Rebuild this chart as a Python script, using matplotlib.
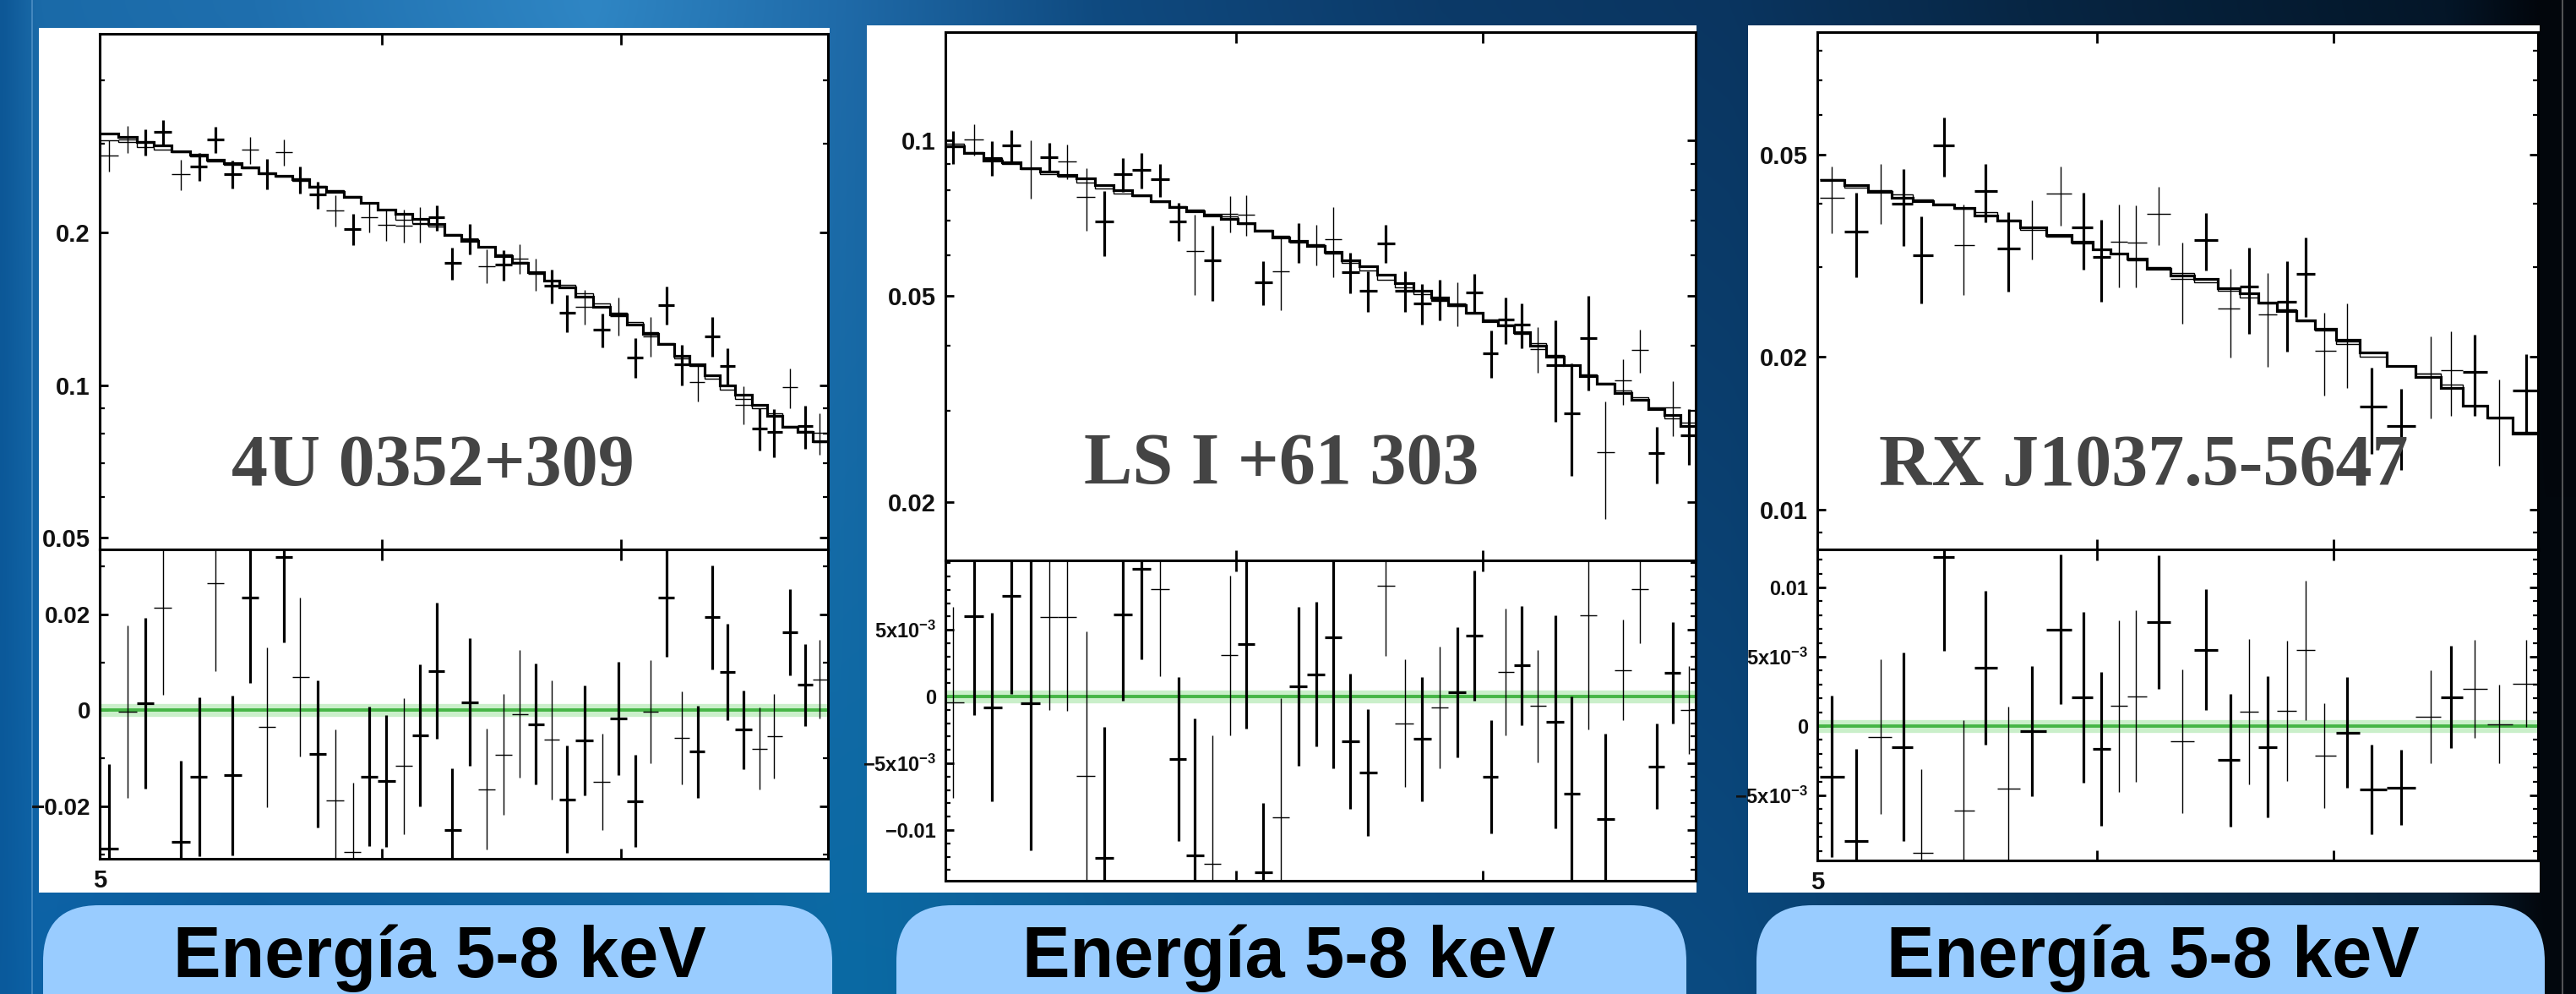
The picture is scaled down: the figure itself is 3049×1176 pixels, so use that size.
import numpy as np
import matplotlib
matplotlib.use('Agg')
import matplotlib.pyplot as plt
from matplotlib.patches import Rectangle, FancyBboxPatch
from matplotlib.ticker import FixedLocator, FixedFormatter, NullFormatter, NullLocator, MultipleLocator, LogLocator
from matplotlib.colors import to_rgb
from matplotlib import font_manager

# ---------------- data ----------------
# Panel 1 : 4U 0352+309
E1 = [5.030, 5.091, 5.150, 5.208, 5.268, 5.332, 5.388, 5.448, 5.511, 5.569, 5.631, 5.690, 5.756, 5.820, 5.888,
      5.949, 6.016, 6.085, 6.149, 6.214, 6.278, 6.349, 6.418, 6.489, 6.557, 6.626, 6.695, 6.759, 6.837, 6.916,
      6.988, 7.066, 7.135, 7.208, 7.278, 7.355, 7.424, 7.497, 7.575, 7.655, 7.727, 7.808, 7.885, 7.958]
flux1 = [0.2847, 0.3062, 0.3023, 0.3163, 0.2613, 0.2707, 0.3057, 0.2613, 0.2917, 0.2621, 0.2889, 0.2550, 0.2378,
         0.2215, 0.2033, 0.2151, 0.2076, 0.2066, 0.2083, 0.2144, 0.1743, 0.1946, 0.1720, 0.1729, 0.1777, 0.1660,
         0.1569, 0.1389, 0.1430, 0.1285, 0.1371, 0.1135, 0.1250, 0.1440, 0.1099, 0.1013, 0.1250, 0.1090, 0.0915,
         0.0821, 0.0808, 0.0989, 0.0830, 0.0804]
fluxerr1 = [0.0203, 0.0186, 0.0184, 0.0184, 0.0180, 0.0175, 0.0183, 0.0169, 0.0177, 0.0180, 0.0175, 0.0155, 0.0144,
            0.0156, 0.0145, 0.0148, 0.0148, 0.0156, 0.0169, 0.0125, 0.0127, 0.0134, 0.0132, 0.0119, 0.0118, 0.0121,
            0.0121, 0.0118, 0.0112, 0.0099, 0.0117, 0.0101, 0.0111, 0.0125, 0.0102, 0.0086, 0.0111, 0.0093, 0.0078,
            0.0080, 0.0088, 0.0088, 0.0081, 0.0075]
thick1 = [0, 0, 1, 1, 0, 1, 1, 1, 0, 1, 0, 1, 1, 0, 1, 0, 0, 0, 0, 1, 1, 1, 0, 1, 0, 0, 1, 1, 0, 1,
          0, 1, 0, 1, 1, 0, 1, 1, 0, 1, 1, 0, 1, 0]
model1_a = [0.3147, 0.3097, 0.3023, 0.2974, 0.2903, 0.2856, 0.2788, 0.2743, 0.2699, 0.2621, 0.2592, 0.2550, 0.2469,
            0.2409, 0.2352, 0.2288, 0.2222, 0.2179, 0.2134, 0.2083, 0.1984, 0.1927, 0.1875, 0.1800, 0.1743, 0.1674,
            0.1607, 0.1561, 0.1494, 0.1430, 0.1378, 0.1319, 0.1261, 0.1205, 0.1144, 0.1099, 0.1046, 0.0997, 0.0957,
            0.0912, 0.0869, 0.0827, 0.0808, 0.0775]
model1_b = [0.305, 0.303, 0.296, 0.292, 0.289, 0.283, 0.277, 0.273, 0.268, 0.262, 0.258, 0.253, 0.248, 0.243, 0.236,
            0.229, 0.222, 0.212, 0.209, 0.206, 0.199, 0.194, 0.188, 0.181, 0.175, 0.167, 0.161, 0.158, 0.152, 0.145,
            0.139, 0.133, 0.127, 0.121, 0.113, 0.109, 0.103, 0.098, 0.094, 0.090, 0.088, 0.083, 0.081, 0.077]
resid1 = [-0.02871, -0.0003, 0.0015, 0.02132, -0.02733, -0.01381, 0.02643, -0.01351, 0.02354, -0.00348, 0.03195,
          0.00691, -0.00901, -0.01874, -0.02943, -0.01381, -0.01471, -0.01159, -0.00523, 0.00823, -0.02492, 0.00168,
          -0.01640, -0.00919, -0.00078, -0.00288, -0.00613, -0.01850, -0.00631, -0.01483, -0.00162, -0.01892,
          -0.0003, 0.02354, -0.00571, -0.00859, 0.01940, 0.00799, -0.00402, -0.00799, -0.00541, 0.01622, 0.00529,
          0.00649]
residerr1 = [0.0176, 0.0180, 0.0178, 0.0180, 0.0168, 0.0165, 0.0183, 0.0166, 0.0178, 0.0166, 0.0178, 0.0165, 0.0153,
             0.0148, 0.0144, 0.0145, 0.0138, 0.0142, 0.0148, 0.0141, 0.0129, 0.0133, 0.0126, 0.0126, 0.0133, 0.0126,
             0.0124, 0.0111, 0.0114, 0.0100, 0.0118, 0.0096, 0.0108, 0.0124, 0.0097, 0.0096, 0.0108, 0.0100, 0.0082,
             0.0085, 0.0088, 0.0090, 0.0085, 0.0082]
residthick1 = [1, 0, 1, 0, 1, 1, 0, 1, 1, 0, 1, 0, 1, 0, 0, 1, 1, 0, 1, 1, 1, 1, 0, 0, 0, 1, 0, 1, 1, 0,
               1, 1, 0, 1, 0, 1, 1, 1, 1, 0, 0, 1, 1, 0]

# Panel 2 : LS I +61 303
E2 = [5.025, 5.090, 5.149, 5.210, 5.274, 5.335, 5.396, 5.462, 5.523, 5.589, 5.652, 5.719, 5.785, 5.846, 5.911,
      5.975, 6.038, 6.101, 6.170, 6.237, 6.307, 6.375, 6.444, 6.516, 6.587, 6.667, 6.740, 6.815, 6.889, 6.964,
      7.037, 7.102, 7.174, 7.247, 7.326, 7.403, 7.478, 7.560, 7.644, 7.727, 7.806, 7.885, 7.965]
flux2 = [0.0973, 0.1005, 0.0926, 0.0979, 0.0885, 0.0929, 0.0911, 0.0777, 0.0698, 0.0859, 0.0876, 0.0840, 0.0698,
         0.0610, 0.0587, 0.0722, 0.0718, 0.0532, 0.0558, 0.0636, 0.0630, 0.0644, 0.0556, 0.0512, 0.0633, 0.0512,
         0.0484, 0.0493, 0.0484, 0.0508, 0.0388, 0.0450, 0.0440, 0.0395, 0.0367, 0.0297, 0.0414, 0.0249, 0.0343,
         0.0393, 0.0248, 0.0305, 0.0269]
fluxerr2 = [0.0071, 0.0070, 0.0072, 0.0068, 0.0114, 0.0062, 0.0069, 0.0108, 0.0100, 0.0065, 0.0070, 0.0062, 0.0060,
            0.0107, 0.0098, 0.0059, 0.0064, 0.0052, 0.0089, 0.0056, 0.0057, 0.0100, 0.0050, 0.0046, 0.0054, 0.0046,
            0.0044, 0.0044, 0.0047, 0.0044, 0.0041, 0.0046, 0.0044, 0.0040, 0.0081, 0.0073, 0.0086, 0.0064, 0.0035,
            0.0038, 0.0031, 0.0037, 0.0033]
thick2 = [1, 0, 1, 1, 0, 1, 0, 0, 1, 1, 1, 1, 1, 0, 1, 0, 0, 1, 0, 1, 0, 0, 1, 1, 1, 1, 1, 1, 0, 1,
          1, 1, 1, 0, 1, 1, 1, 0, 0, 0, 1, 0, 1]
model2_a = [0.0973, 0.0945, 0.0914, 0.0907, 0.0885, 0.0870, 0.0856, 0.0843, 0.0818, 0.0802, 0.0783, 0.0764, 0.0742,
            0.0730, 0.0716, 0.0704, 0.0693, 0.0668, 0.0649, 0.0638, 0.0626, 0.0608, 0.0587, 0.0570, 0.0549, 0.0529,
            0.0512, 0.0496, 0.0480, 0.0464, 0.0447, 0.0439, 0.0425, 0.0401, 0.0382, 0.0367, 0.0350, 0.0338, 0.0325,
            0.0315, 0.0302, 0.0294, 0.0280]
model2_b = [0.0985, 0.0950, 0.0925, 0.0900, 0.0880, 0.0862, 0.0850, 0.0830, 0.0808, 0.0790, 0.0780, 0.0760, 0.0745,
            0.0735, 0.0720, 0.0712, 0.0690, 0.0672, 0.0655, 0.0640, 0.0625, 0.0605, 0.0580, 0.0560, 0.0538, 0.0520,
            0.0505, 0.0490, 0.0478, 0.0462, 0.0450, 0.0440, 0.0422, 0.0405, 0.0385, 0.0368, 0.0352, 0.0340, 0.0328,
            0.0318, 0.0305, 0.0290, 0.0285]
resid2 = [-0.00043, 0.00600, -0.00080, 0.00751, -0.00050, 0.00593, 0.00593, -0.00593, -0.01208, 0.00615, 0.00954,
          0.00803, -0.00468, -0.01191, -0.01256, 0.00309, 0.00395, -0.01316, -0.00906, 0.00076, 0.00168, 0.00442,
          -0.00334, -0.00572, 0.00831, -0.00199, -0.00319, -0.00082, 0.00032, 0.00457, -0.00600, 0.00183, 0.00233,
          -0.00071, -0.00190, -0.00727, 0.00609, -0.00917, 0.00199, 0.00803, -0.00522, 0.00177, -0.00101]
residerr2 = [0.00716, 0.00740, 0.00706, 0.00729, 0.01105, 0.00691, 0.00701, 0.01079, 0.00982, 0.00647, 0.00673,
             0.00652, 0.00615, 0.01029, 0.00965, 0.00600, 0.00632, 0.00518, 0.00896, 0.00593, 0.00544, 0.00982,
             0.00507, 0.00475, 0.00529, 0.00475, 0.00464, 0.00457, 0.00486, 0.00490, 0.00425, 0.00475, 0.00447,
             0.00421, 0.00798, 0.00727, 0.00857, 0.00637, 0.00378, 0.00404, 0.00317, 0.00378, 0.00328]
residthick2 = [0, 1, 1, 1, 1, 0, 0, 0, 1, 1, 1, 0, 1, 1, 0, 0, 1, 1, 0, 1, 1, 1, 1, 1, 0, 0, 1, 0, 1, 1,
               1, 0, 1, 0, 1, 1, 0, 1, 0, 0, 1, 1, 0]

# Panel 3 : RX J1037.5-5647
E3 = [5.048, 5.128, 5.210, 5.289, 5.352, 5.430, 5.501, 5.579, 5.664, 5.752, 5.860, 5.947, 6.018, 6.086, 6.155,
      6.246, 6.344, 6.442, 6.545, 6.626, 6.708, 6.791, 6.874, 6.959, 7.065, 7.178, 7.318, 7.458, 7.558, 7.678,
      7.801, 7.938]
flux3 = [0.04120, 0.03535, 0.04221, 0.04002, 0.03167, 0.05222, 0.03314, 0.04234, 0.03271, 0.03592, 0.04187,
         0.03592, 0.03147, 0.03368, 0.03357, 0.03819, 0.02843, 0.03395, 0.02487, 0.02753, 0.02420, 0.02569,
         0.02913, 0.02059, 0.02144, 0.01596, 0.01463, 0.01854, 0.01885, 0.01869, 0.01511, 0.01716]
fluxerr3 = [0.00615, 0.00670, 0.00568, 0.00690, 0.00620, 0.00695, 0.00668, 0.00556, 0.00585, 0.00478, 0.00557,
            0.00623, 0.00578, 0.00624, 0.00622, 0.00499, 0.00516, 0.00438, 0.00491, 0.00533, 0.00507, 0.00518,
            0.00517, 0.00382, 0.00406, 0.00309, 0.00265, 0.00344, 0.00357, 0.00339, 0.00292, 0.00311]
thick3 = [0, 1, 0, 1, 1, 1, 0, 1, 1, 0, 0, 1, 1, 0, 0, 0, 0, 1, 0, 1, 0, 1, 1, 0, 0, 1, 1, 0, 0, 1, 0, 1]
model3_a = [0.04465, 0.04359, 0.04221, 0.04120, 0.04054, 0.03989, 0.03925, 0.03801, 0.03710, 0.03592, 0.03478,
            0.03368, 0.03261, 0.03198, 0.03117, 0.02984, 0.02889, 0.02843, 0.02731, 0.02666, 0.02560, 0.02459,
            0.02362, 0.02269, 0.02161, 0.02043, 0.01915, 0.01825, 0.01739, 0.01604, 0.01516, 0.01410]
model3_b = [0.0448, 0.0430, 0.0425, 0.0418, 0.0408, 0.0400, 0.0392, 0.0385, 0.0372, 0.0355, 0.0345, 0.0335, 0.0325,
            0.0320, 0.0310, 0.0300, 0.0292, 0.0280, 0.0270, 0.0262, 0.0255, 0.0248, 0.0235, 0.0225, 0.0212, 0.0200,
            0.0192, 0.0185, 0.0176, 0.0160, 0.0152, 0.0142]
resid3 = [-0.00365, -0.00829, -0.00079, -0.00150, -0.00917, 0.01219, -0.00610, 0.00421, -0.00452, -0.00035, 0.00698,
          0.00208, -0.00163, 0.00146, 0.00215, 0.00750, -0.00110, 0.00552, -0.00246, 0.00104, -0.00150, 0.00108,
          0.00546, -0.00213, -0.00046, -0.00458, -0.00444, 0.00067, 0.00208, 0.00267, 0.00015, 0.00308]
residerr3 = [0.00583, 0.00663, 0.00558, 0.00679, 0.00604, 0.00677, 0.00652, 0.00558, 0.00594, 0.00469, 0.00542,
             0.00617, 0.00554, 0.00619, 0.00619, 0.00483, 0.00521, 0.00438, 0.00479, 0.00525, 0.00510, 0.00506,
             0.00502, 0.00379, 0.00400, 0.00323, 0.00271, 0.00338, 0.00369, 0.00354, 0.00285, 0.00317]
residthick3 = [1, 1, 0, 1, 0, 1, 0, 1, 0, 1, 1, 1, 1, 0, 0, 1, 0, 1, 1, 0, 1, 0, 0, 0, 1, 1, 1, 0, 1, 0, 0, 0]

titles = ["4U 0352+309", "LS I +61 303", "RX J1037.5-5647"]
band_label = "Energía 5-8 keV"

up_ticks = [[0.05, 0.1, 0.2], [0.02, 0.05, 0.1], [0.01, 0.02, 0.05]]
up_labels = [["0.05", "0.1", "0.2"], ["0.02", "0.05", "0.1"], ["0.01", "0.02", "0.05"]]
lo_ticks = [[-0.02, 0.0, 0.02], [-0.01, -0.005, 0.0, 0.005], [-0.005, 0.0, 0.005, 0.01]]
lo_labels = [["\u22120.02", "0", "0.02"],
             ["\u22120.01", "\u22125x10$^{\\mathregular{-3}}$", "0", "5x10$^{\\mathregular{-3}}$"],
             ["\u22125x10$^{\\mathregular{-3}}$", "0", "5x10$^{\\mathregular{-3}}$", "0.01"]]

# ---------------- layout / style ----------------
W, H = 3049, 1176
plt.rcParams['font.weight'] = 'bold'
plt.rcParams['mathtext.default'] = 'regular'
fig = plt.figure(figsize=(W / 100, H / 100), dpi=100)

names = {f.name for f in font_manager.fontManager.ttflist}
tickfont = 'Liberation Sans Narrow' if 'Liberation Sans Narrow' in names else 'Liberation Sans'

def frac(x0, y0, x1, y1):
    return [x0 / W, 1 - y1 / H, (x1 - x0) / W, (y1 - y0) / H]

# background
bg = fig.add_axes([0, 0, 1, 1], zorder=0)
bg.set_xlim(0, W)
bg.set_ylim(H, 0)
bg.axis('off')
xs_ctrl = [0, 40, 300, 700, 1000, 1300, 1700, 2050, 2400, 2900, 3010, 3049]
top_ctrl = ['#0d5796', '#1a6aa8', '#1f6fae', '#2f86c4', '#1f6aa8', '#0f4a80', '#0c3a68', '#0a3560', '#072644',
            '#041628', '#02060c', '#02060c']
bot_ctrl = ['#0a5a9c', '#0c62a6', '#0a5a98', '#0c5e9a', '#0a6aa4', '#0c5e96', '#0b5088', '#0a4a80', '#0a3860',
            '#08243c', '#03080e', '#03080e']
nx, ny = 400, 60
gx = np.linspace(0, W, nx)
topc = np.array([to_rgb(c) for c in top_ctrl])
botc = np.array([to_rgb(c) for c in bot_ctrl])
top_row = np.stack([np.interp(gx, xs_ctrl, topc[:, k]) for k in range(3)], axis=1)
bot_row = np.stack([np.interp(gx, xs_ctrl, botc[:, k]) for k in range(3)], axis=1)
t = np.linspace(0, 1, ny)[:, None, None]
img = top_row[None, :, :] * (1 - t) + bot_row[None, :, :] * t
bg.imshow(img, extent=(0, W, H, 0), aspect='auto', interpolation='bicubic', zorder=0)
bg.plot([38, 38], [0, H], color='#6fa8d8', lw=1.2, alpha=0.6, zorder=1)
bg.plot([3033, 3033], [0, H], color='#8a8a8a', lw=1.2, alpha=0.7, zorder=1)

layout = [dict(box=(46, 33, 982, 1056), ax=(118, 40, 980, 650, 1016), pill=(51, 985), txt=520, title=(512, 574),
               ylim=(0.0473, 0.495), rlim=(-0.0309, 0.0335), five=True, rsize=20),
          dict(box=(1026, 30, 2008, 1056), ax=(1119, 38, 2007, 663, 1042), pill=(1061, 1996), txt=1525, title=(1517, 572),
               ylim=(0.0154, 0.162), rlim=(-0.0138, 0.0102), five=False, rsize=17),
          dict(box=(2069, 30, 3006, 1056), ax=(2151, 38, 3004, 650, 1018), pill=(2079, 3012), txt=2548, title=(2537, 574),
               ylim=(0.00835, 0.0872), rlim=(-0.0097, 0.01275), five=True, rsize=17)]

for L in layout:
    x0, y0, x1, y1 = L['box']
    bg.add_patch(Rectangle((x0, y0), x1 - x0, y1 - y0, fc='white', ec='none', zorder=2))
    p0, p1 = L['pill']
    bg.add_patch(FancyBboxPatch((p0, 1071), p1 - p0, 220, boxstyle='round,pad=0,rounding_size=66',
                                fc='#99ccff', ec='none', zorder=2))
    bg.text(L['txt'], 1156, band_label, ha='center', va='baseline', fontsize=61, fontweight='bold',
            family='Liberation Sans', color='black', zorder=3)

fg = fig.add_axes([0, 0, 1, 1], zorder=10)
fg.set_xlim(0, W)
fg.set_ylim(H, 0)
fg.axis('off')
fg.patch.set_alpha(0)

datasets = [(E1, flux1, fluxerr1, thick1, model1_a, model1_b, resid1, residerr1, residthick1),
            (E2, flux2, fluxerr2, thick2, model2_a, model2_b, resid2, residerr2, residthick2),
            (E3, flux3, fluxerr3, thick3, model3_a, model3_b, resid3, residerr3, residthick3)]

LW_THICK, LW_THIN = 2.3, 1.0

def edges_of(E):
    E = np.asarray(E)
    mids = np.sqrt(E[:-1] * E[1:])
    first = E[0] ** 2 / mids[0]
    last = E[-1] ** 2 / mids[-1]
    return np.concatenate([[first], mids, [last]])

def crosses(ax, E, v, err, flags, edges):
    E = np.asarray(E); v = np.asarray(v); err = np.asarray(err); flags = np.asarray(flags, bool)
    xlo = E - edges[:-1]
    xhi = edges[1:] - E
    for sel, lw in ((~flags, LW_THIN), (flags, LW_THICK)):
        ax.errorbar(E[sel], v[sel], yerr=err[sel], xerr=[xlo[sel], xhi[sel]], fmt='none', ecolor='black',
                    elinewidth=lw, capsize=0, zorder=4)

def style(ax, size):
    ax.set_xscale('log')
    ax.set_xlim(5, 8)
    ax.xaxis.set_major_locator(FixedLocator([6, 7]))
    ax.xaxis.set_minor_locator(NullLocator())
    ax.xaxis.set_major_formatter(NullFormatter())
    ax.xaxis.set_minor_formatter(NullFormatter())
    ax.tick_params(axis='x', which='major', direction='in', top=True, bottom=True, length=9, width=2)
    ax.tick_params(axis='y', which='major', direction='in', left=True, right=True, length=7, width=2, pad=8,
                   labelsize=size, labelfontfamily=tickfont, labelcolor='#111111')
    ax.tick_params(axis='y', which='minor', direction='in', left=True, right=True, length=4, width=1.6)
    for s in ax.spines.values():
        s.set_linewidth(2.2)
        s.set_color('black')

for i, (L, D) in enumerate(zip(layout, datasets)):
    E, fl, fe, th, ma, mb, rs, re, rth = D
    xl, yt, xr, yd, yb = L['ax']
    edges = edges_of(E)
    up = fig.add_axes(frac(xl, yt, xr, yd), zorder=5)
    lo = fig.add_axes(frac(xl, yd, xr, yb), zorder=5)

    # upper spectrum
    up.stairs(mb, edges, baseline=None, color='black', lw=LW_THIN, zorder=3)
    up.stairs(ma, edges, baseline=None, color='black', lw=LW_THICK, zorder=3)
    crosses(up, E, fl, fe, th, edges)
    up.set_yscale('log')
    up.set_ylim(*L['ylim'])
    up.yaxis.set_major_locator(FixedLocator(up_ticks[i]))
    up.yaxis.set_major_formatter(FixedFormatter(up_labels[i]))
    up.yaxis.set_minor_locator(LogLocator(base=10, subs=np.arange(2, 10), numticks=20))
    up.yaxis.set_minor_formatter(NullFormatter())
    style(up, 21)

    # residuals
    lo.axhline(0, color='#9fe39f', lw=11, alpha=0.55, zorder=1)
    lo.axhline(0, color='#45b545', lw=2.8, zorder=2)
    crosses(lo, E, rs, re, rth, edges)
    lo.set_ylim(*L['rlim'])
    lo.yaxis.set_major_locator(FixedLocator(lo_ticks[i]))
    lo.yaxis.set_major_formatter(FixedFormatter(lo_labels[i]))
    lo.yaxis.set_minor_locator(MultipleLocator(0.01 if i == 0 else 0.001))
    style(lo, L['rsize'])

    fg.text(L['title'][0], L['title'][1], titles[i], ha='center', va='baseline', fontsize=62,
            fontweight='bold', family='Liberation Serif', color='#444444')
    if L['five']:
        fg.text(xl, yb + 34, '5', ha='center', va='baseline', fontsize=21, fontweight='bold',
                family=tickfont, color='#111111')

fig.savefig('out.png', dpi=100)
